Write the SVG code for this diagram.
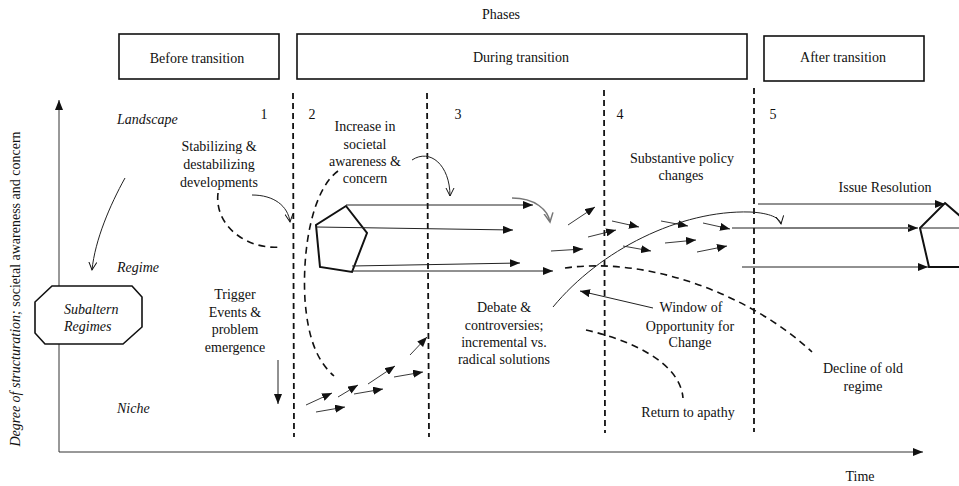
<svg xmlns="http://www.w3.org/2000/svg" width="959" height="486" viewBox="0 0 959 486">
  <style>
    text { font-family: "Liberation Serif", "Times New Roman", serif; font-size: 14px; fill: #111; }
    .c { text-anchor: middle; }
    .it { font-style: italic; }
    .box { fill: #fff; stroke: #111; stroke-width: 1.6; }
    .ax { fill: none; stroke: #333; stroke-width: 1; }
    .phase { fill: none; stroke: #111; stroke-width: 1.8; stroke-dasharray: 6 4; }
    .dash { fill: none; stroke: #111; stroke-width: 1.6; stroke-dasharray: 7 5; }
    .thin { fill: none; stroke: #222; stroke-width: 1; }
    .grey { fill: none; stroke: #777; stroke-width: 1.5; }
    .sm { fill: none; stroke: #222; stroke-width: 0.9; marker-end: url(#fa); }
    .pent { fill: none; stroke: #111; stroke-width: 2; }
  </style>
  <defs>
    <marker id="fa" markerUnits="userSpaceOnUse" markerWidth="10" markerHeight="8" refX="10" refY="4" orient="auto">
      <path d="M0,0 L10,4 L0,8 z" fill="#111"/>
    </marker>
    <marker id="oa" markerUnits="userSpaceOnUse" markerWidth="10" markerHeight="10" refX="8" refY="5" orient="auto">
      <path d="M0,1 L8,5 L0,9" fill="none" stroke="#111" stroke-width="1"/>
    </marker>
    <marker id="ga" markerUnits="userSpaceOnUse" markerWidth="11" markerHeight="11" refX="9" refY="5.5" orient="auto">
      <path d="M0,1 L9,5.5 L0,10" fill="none" stroke="#777" stroke-width="1.5"/>
    </marker>
  </defs>

  <!-- axes -->
  <g id="axes">
    <line class="ax" x1="59" y1="452" x2="59" y2="100" marker-end="url(#fa)"/>
    <line class="ax" x1="59" y1="452" x2="923" y2="452" marker-end="url(#fa)"/>
    <text x="20" y="289" class="c" transform="rotate(-90 20 289)"><tspan class="it">Degree of structuration;</tspan> societal awareness and concern</text>
    <text x="860" y="481" class="c">Time</text>
  </g>

  <!-- phase headers -->
  <g id="phases">
    <text x="501" y="19" class="c">Phases</text>
  </g>
  <g id="before">
    <rect class="box" x="119" y="34" width="160" height="45"/>
    <text x="197" y="63" class="c">Before transition</text>
  </g>
  <g id="during">
    <rect class="box" x="297" y="34" width="450" height="45"/>
    <text x="521" y="62" class="c">During transition</text>
  </g>
  <g id="after">
    <rect class="box" x="764" y="36" width="160" height="45"/>
    <text x="843" y="62" class="c">After transition</text>
  </g>

  <!-- phase boundaries and numbers -->
  <g id="boundaries">
    <line class="phase" x1="293" y1="93" x2="294" y2="437"/>
    <line class="phase" x1="427" y1="93" x2="429" y2="437"/>
    <line class="phase" x1="604" y1="90" x2="605" y2="433"/>
    <line class="phase" x1="754" y1="88" x2="754" y2="432"/>
    <text x="264" y="119" class="c">1</text>
    <text x="312" y="119" class="c">2</text>
    <text x="458" y="119" class="c">3</text>
    <text x="620" y="119" class="c">4</text>
    <text x="773" y="119" class="c">5</text>
  </g>

  <!-- level labels -->
  <g id="levels">
    <text x="117" y="124" class="it">Landscape</text>
    <text x="117" y="272" class="it">Regime</text>
    <text x="117" y="413" class="it">Niche</text>
  </g>

  <!-- subaltern regimes -->
  <g id="subaltern">
    <polygon class="box" stroke-width="2" points="52,286 132,286 142,297 142,327 123,344 45,344 35,333 35,302"/>
    <text x="64" y="314" class="it">Subaltern</text>
    <text x="64" y="331" class="it">Regimes</text>
  </g>

  <!-- regime pentagons -->
  <g id="regime-old">
    <polygon class="pent" points="346,206 367,233 352,272 320,267 316,225"/>
  </g>
  <g id="regime-new">
    <polygon class="pent" points="945,203 976,230 965,267 929,267 920,228"/>
  </g>

  <!-- text labels -->
  <g id="labels">
    <text class="c" x="219" y="151">Stabilizing &amp;</text>
    <text class="c" x="219" y="169">destabilizing</text>
    <text class="c" x="219" y="187">developments</text>

    <text class="c" x="365" y="131">Increase in</text>
    <text class="c" x="365" y="149">societal</text>
    <text class="c" x="365" y="166">awareness &amp;</text>
    <text class="c" x="365" y="183">concern</text>

    <text class="c" x="235" y="299">Trigger</text>
    <text class="c" x="235" y="316.5">Events &amp;</text>
    <text class="c" x="235" y="334">problem</text>
    <text class="c" x="235" y="351.5">emergence</text>

    <text class="c" x="504" y="312">Debate &amp;</text>
    <text class="c" x="504" y="330">controversies;</text>
    <text class="c" x="504" y="347">incremental vs.</text>
    <text class="c" x="504" y="364">radical solutions</text>

    <text class="c" x="682" y="163">Substantive policy</text>
    <text class="c" x="681" y="180">changes</text>

    <text class="c" x="885" y="192">Issue Resolution</text>

    <text class="c" x="691" y="312">Window of</text>
    <text class="c" x="690" y="331">Opportunity for</text>
    <text class="c" x="690" y="347">Change</text>

    <text class="c" x="863" y="373">Decline of old</text>
    <text class="c" x="863" y="391">regime</text>

    <text class="c" x="688" y="417">Return to apathy</text>
  </g>

  <!-- connectors -->
  <g id="connectors">
    <!-- landscape to subaltern regimes -->
    <path class="thin" d="M125,178 C110,205 95,240 92,270" marker-end="url(#oa)"/>
    <!-- developments -->
    <path class="dash" d="M218,193 C214,228 250,250 280,247"/>
    <path class="thin" d="M252,195 C274,195 288,206 290,222" marker-end="url(#oa)"/>
    <!-- societal awareness -->
    <path class="dash" d="M338,171 C312,190 302,250 305,300 C308,340 318,362 334,376"/>
    <path class="thin" d="M412,160 C430,148 450,165 450,196" marker-end="url(#oa)"/>
    <!-- trigger -->
    <line class="thin" x1="278" y1="360" x2="278" y2="404" marker-end="url(#fa)"/>

    <!-- regime trajectories -->
    <line class="thin" x1="346" y1="205" x2="533" y2="205" marker-end="url(#fa)"/>
    <line class="thin" x1="316" y1="227" x2="513" y2="230" marker-end="url(#fa)"/>
    <line class="thin" x1="352" y1="266" x2="520" y2="263" marker-end="url(#fa)"/>
    <line class="thin" x1="352" y1="271" x2="553" y2="271" marker-end="url(#fa)"/>
    <path class="grey" d="M512,198 C535,198 548,210 550,222" marker-end="url(#ga)"/>

    <!-- niche experiments -->
    <line class="sm" x1="306" y1="405" x2="332" y2="393"/>
    <line class="sm" x1="316" y1="412" x2="345" y2="407"/>
    <line class="sm" x1="338" y1="397" x2="358" y2="385"/>
    <line class="sm" x1="354" y1="394" x2="383" y2="389"/>
    <line class="sm" x1="368" y1="384" x2="395" y2="366"/>
    <line class="sm" x1="394" y1="377" x2="423" y2="372"/>
    <line class="sm" x1="410" y1="355" x2="427" y2="337"/>

    <!-- policy change cluster -->
    <line class="sm" x1="568" y1="225" x2="595" y2="207"/>
    <line class="sm" x1="588" y1="237" x2="616" y2="230"/>
    <line class="sm" x1="551" y1="251" x2="583" y2="249"/>
    <line class="sm" x1="612" y1="221" x2="639" y2="227"/>
    <line class="sm" x1="623" y1="246" x2="651" y2="251"/>
    <line class="sm" x1="661" y1="221" x2="688" y2="226"/>
    <line class="sm" x1="665" y1="243" x2="696" y2="240"/>
    <line class="sm" x1="703" y1="223" x2="730" y2="229"/>
    <line class="sm" x1="697" y1="252" x2="727" y2="246"/>

    <!-- window of opportunity -->
    <path class="thin" d="M553,307 C600,250 680,210 750,212 C770,213 780,218 781,224" marker-end="url(#oa)"/>
    <line class="thin" x1="653" y1="308" x2="580" y2="291" marker-end="url(#fa)"/>

    <!-- decline and apathy -->
    <path class="dash" d="M565,268 C650,256 752,296 812,352"/>
    <path class="dash" d="M586,330 C630,340 680,362 683,398"/>

    <!-- new regime trajectories -->
    <line class="thin" x1="758" y1="204" x2="945" y2="204" marker-end="url(#fa)"/>
    <line class="thin" x1="732" y1="228" x2="918" y2="228" marker-end="url(#fa)"/>
    <line class="grey" x1="780" y1="228" x2="910" y2="228"/>
    <line class="thin" x1="920" y1="228" x2="959" y2="228"/>
    <line class="thin" x1="742" y1="267" x2="928" y2="267" marker-end="url(#fa)"/>
  </g>
</svg>
